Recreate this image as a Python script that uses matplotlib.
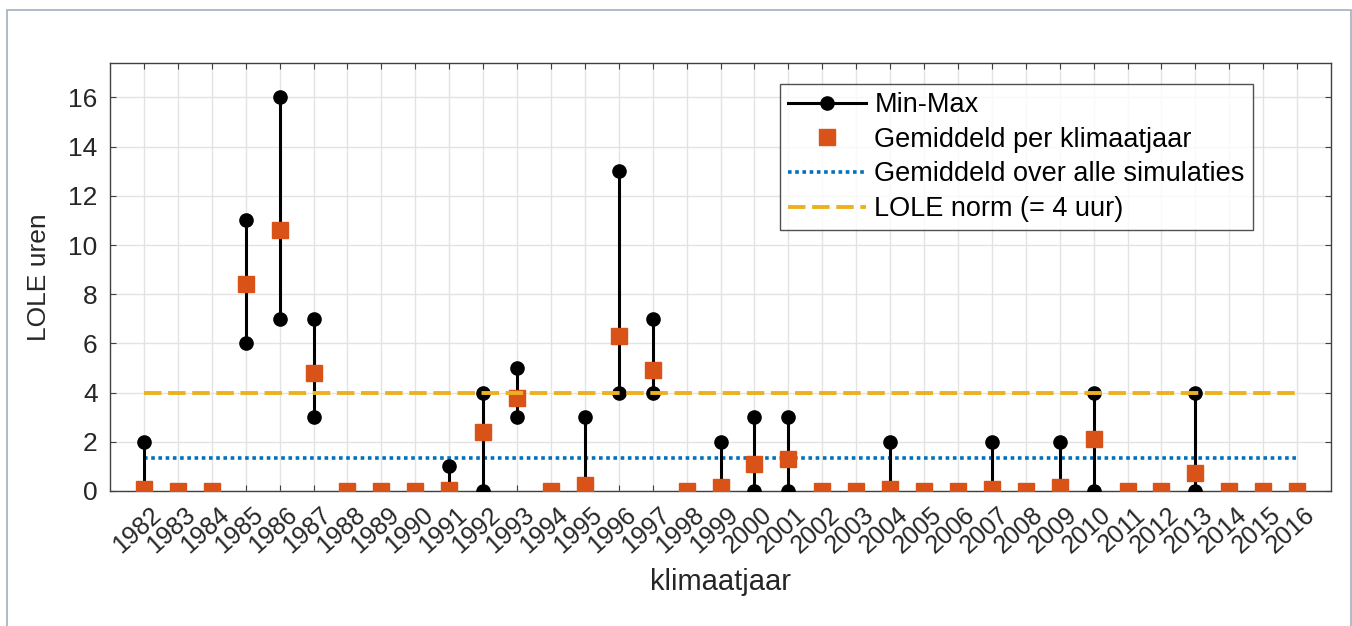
import matplotlib
matplotlib.use("Agg")
import matplotlib.pyplot as plt
from matplotlib.patches import Rectangle
from matplotlib.transforms import ScaledTranslation

plt.rcParams['font.family'] = ['Liberation Sans', 'DejaVu Sans']

years = list(range(1982, 2017))

lole_min = [0, 0, 0, 6, 7, 3, 0, 0, 0, 0, 0, 3, 0, 0, 4, 4, 0, 0, 0, 0,
            0, 0, 0, 0, 0, 0, 0, 0, 0, 0, 0, 0, 0, 0, 0]
lole_max = [2, 0, 0, 11, 16, 7, 0, 0, 0, 1, 4, 5, 0, 3, 13, 7, 0, 2, 3, 3,
            0, 0, 2, 0, 0, 2, 0, 2, 4, 0, 0, 4, 0, 0, 0]
lole_mean = [0.07, 0, 0, 8.4, 10.6, 4.8, 0, 0, 0, 0.04, 2.38, 3.79, 0, 0.24,
             6.29, 4.91, 0, 0.15, 1.08, 1.29, 0, 0, 0.08, 0, 0, 0.08, 0, 0.15,
             2.1, 0, 0, 0.72, 0, 0, 0]
overall_mean = 1.35
lole_norm = 4

C_BLUE = '#0072BD'
C_ORANGE = '#D95319'
C_YELLOW = '#EDB120'
C_TEXT = '#262626'

fig = plt.figure(figsize=(13.52, 6.26), dpi=100)
fig.patches.append(Rectangle((6.5 / 1352, -0.1), (1351 - 6.5) / 1352, 1.1 - 9.5 / 626,
                             transform=fig.transFigure, fill=False,
                             edgecolor='#a9b5c3', linewidth=1.3))

ax = fig.add_axes([110 / 1352, 1 - 491 / 626, (1331 - 110) / 1352, (491 - 63) / 626])

# Min-max range per climate year
for i, (y, lo, hi) in enumerate(zip(years, lole_min, lole_max)):
    ax.plot([y, y], [lo, hi], color='black', linewidth=2.2, marker='o',
            markersize=9.5, markerfacecolor='black', markeredgecolor='black',
            zorder=3, label='Min-Max' if i == 0 else None)

ax.plot(years, lole_mean, linestyle='none', marker='s', markersize=11.5,
        color=C_ORANGE, zorder=4, label='Gemiddeld per klimaatjaar')

ax.plot([years[0], years[-1]], [overall_mean, overall_mean], linestyle=(0, (1, 1)),
        color=C_BLUE, linewidth=2.6, zorder=2, label='Gemiddeld over alle simulaties')

ax.plot([years[0], years[-1]], [lole_norm, lole_norm], linestyle=(0, (4.5, 1.7)),
        color=C_YELLOW, linewidth=2.8, zorder=5, label='LOLE norm (= 4 uur)')

ax.set_xlim(1981, 2017)
ax.set_ylim(0, 17.4)
ax.set_xticks(years)
ax.set_yticks(range(0, 17, 2))
ax.tick_params(axis='y', labelsize=19, labelcolor=C_TEXT, pad=9)
ax.tick_params(direction='in', top=True, right=True, length=4, width=0.8,
               color='#404040')

ax.set_xticklabels([str(y) for y in years], rotation=42, ha='right', va='top',
                   rotation_mode='anchor', fontsize=18, color=C_TEXT)
# nudge the slanted year labels right and down
shift = ScaledTranslation(6 / 100, -7 / 100, fig.dpi_scale_trans)
for lbl in ax.get_xticklabels():
    lbl.set_transform(lbl.get_transform() + shift)

ax.grid(True, color='#e3e3e3', linewidth=1.0)
ax.set_axisbelow(True)
for s in ax.spines.values():
    s.set_color('#404040')
    s.set_linewidth(1.0)

ax.set_xlabel('klimaatjaar', fontsize=21, color=C_TEXT, labelpad=7)
ax.set_ylabel('LOLE uren', fontsize=19, color=C_TEXT, labelpad=12)

leg = ax.legend(loc='upper right', bbox_to_anchor=(0.936, 0.951), fontsize=19.5,
                frameon=True, fancybox=False, edgecolor=C_TEXT,
                handlelength=2.88, handletextpad=0.3, borderpad=0.3,
                labelspacing=0.32, borderaxespad=0)
leg.get_frame().set_linewidth(1.0)
for t in leg.get_texts():
    t.set_color('black')

fig.savefig('out.png', dpi=100, facecolor='white')
